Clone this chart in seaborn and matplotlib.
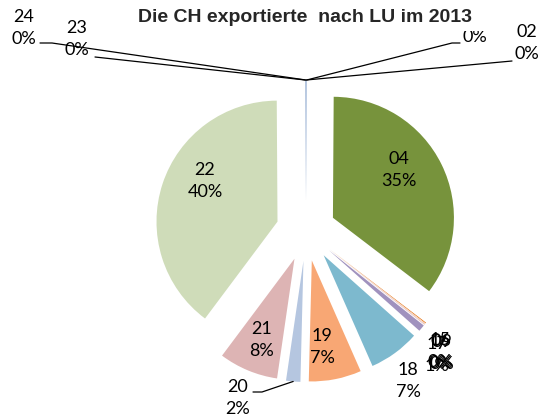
import math

import matplotlib
matplotlib.use("Agg")
import matplotlib.pyplot as plt
from matplotlib.patches import Rectangle
import seaborn as sns

# Kapitel (Zolltarif) und Anteil am Export nach LU in %
kapitel = ["02", "03", "04", "06", "09", "15", "17", "18", "19", "20", "21", "22", "23", "24"]
anteil = [0.05, 0.05, 35.2, 0.1, 0.1, 0.1, 0.9, 6.8, 7.0, 1.9, 7.9, 39.6, 0.05, 0.05]
farben = ["#7F9CC8", "#8EA9D0", "#77933C", "#E46C0A", "#F2C9A8", "#E6B9B8", "#A092BE",
          "#7DB9CE", "#F8A774", "#B5C6E0", "#DDB4B4", "#CFDCB9", "#8EA9D0", "#7F9CC8"]
titel = "Die CH exportierte  nach LU im 2013"

sns.set_style("white")
plt.rcParams["font.family"] = ["Lato", "DejaVu Sans"]

W, H = 542, 418


def px(x, y):
    # Pixel (oben links) -> Datenkoordinaten
    return x, H - y


fig = plt.figure(figsize=(W / 100, H / 100), dpi=100)
ax = fig.add_axes([0, 0, 1, 1])

R = 121
wedges, _ = ax.pie(
    anteil,
    colors=farben,
    startangle=90,
    counterclock=False,
    radius=R,
    center=px(306, 231),
    explode=[30] * len(anteil),
    wedgeprops=dict(linewidth=0),
)

ax.set_xlim(0, W)
ax.set_ylim(0, H)
ax.set_aspect("equal")
ax.axis("off")

total = sum(anteil)
prozent = [f"{round(a / total * 100):.0f}%" for a in anteil]

# Position der Beschriftungen (Pixel, oben links) und Führungslinien
beschriftung = {
    "02": (527, 43), "03": (475, 26), "23": (77, 39), "24": (24, 28),
    "04": (399, 170), "22": (205, 181), "21": (262, 340), "19": (322, 347),
    "06": (441, 352), "09": (442, 353), "15": (440, 351), "17": (437, 355),
    "18": (408, 381), "20": (238, 398),
}
linien = {
    "02": [(512, 61)], "03": [(460, 43), (452, 43)], "23": [(95, 57)],
    "24": [(40, 43), (52, 43)], "20": [(253, 392), (262, 392)],
}

txt = dict(ha="center", va="center", fontsize=13, linespacing=1.5, color="black")

for w, k, p in zip(wedges, kapitel, prozent):
    mid = math.radians((w.theta1 + w.theta2) / 2)
    cx, cy = w.center
    tip = (cx + w.r * math.cos(mid), cy + w.r * math.sin(mid))
    ax.text(*px(*beschriftung[k]), f"{k}\n{p}", **txt)
    if k in linien:
        pts = [px(*q) for q in linien[k]] + [tip]
        ax.plot([q[0] for q in pts], [q[1] for q in pts], color="black", lw=0.9)

# Titelbereich deckt darunterliegende Beschriftung ab (wie im Original)
ax.add_patch(Rectangle(px(125, 31), 370, 28, facecolor="white", edgecolor="none", zorder=4))
ax.text(*px(305.5, 17), titel, ha="center", va="center", fontsize=14,
        fontweight="bold", family=["Liberation Sans", "DejaVu Sans"], zorder=5)

fig.savefig("out.png", dpi=100)
